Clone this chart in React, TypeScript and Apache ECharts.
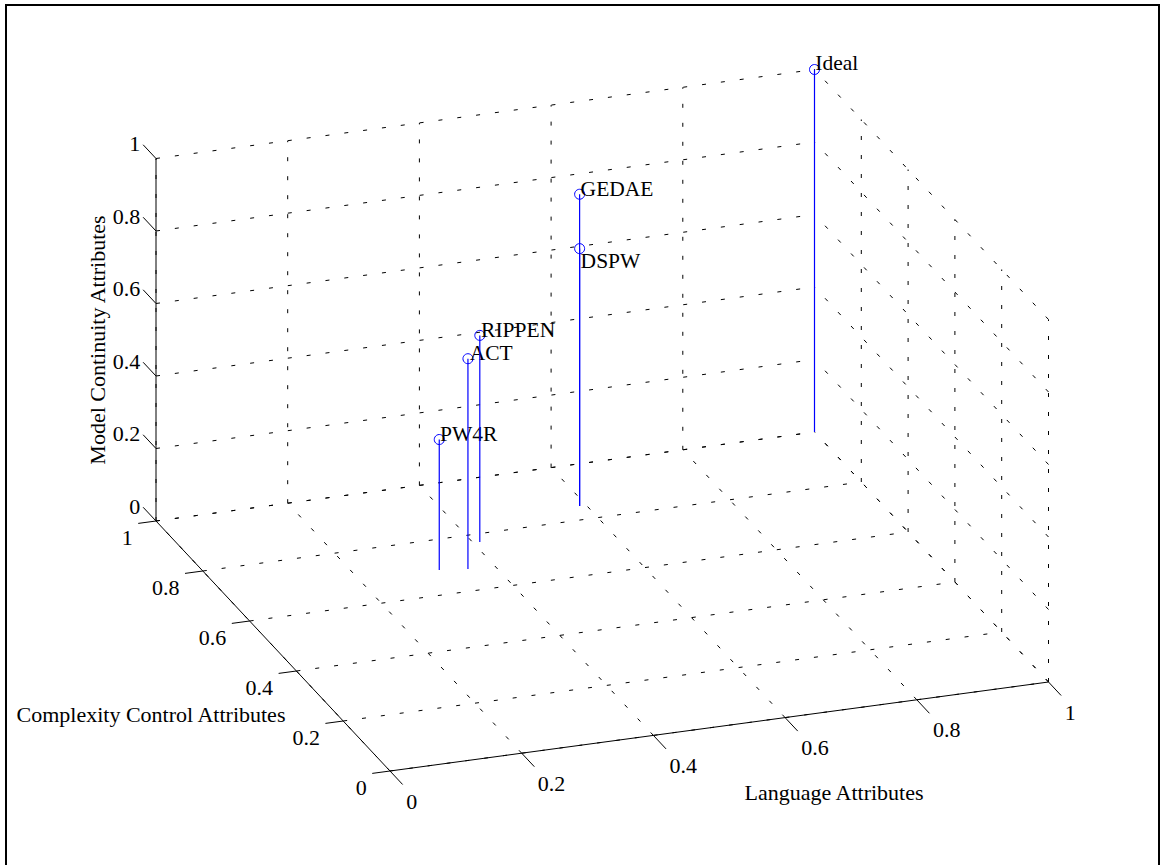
import React, { useEffect, useRef } from 'react';
import * as echarts from 'echarts';

// ---------- data ----------
const pointNames = ['PW4R', 'ACT', 'RIPPEN', 'DSPW', 'GEDAE', 'Ideal'];
const languageValues = [0.32, 0.36, 0.41, 0.59, 0.59, 1];
const complexityValues = [0.69, 0.68, 0.77, 0.85, 0.85, 1];
const continuityValues = [0.36, 0.58, 0.57, 0.71, 0.86, 1];
const tickValues = [0, 0.2, 0.4, 0.6, 0.8, 1];
const tickLabels = ['0', '0.2', '0.4', '0.6', '0.8', '1'];
const xTitle = 'Language Attributes';
const yTitle = 'Complexity Control Attributes';
const zTitle = 'Model Continuity Attributes';

// ---------- view / style ----------
const W = 1160;
const H = 865;
const ORIGIN = [390, 771];
const EX = [658.5, -89];
const EY = [-234, -250];
const EZ = [0, -362.5];
const FONT_FAMILY = '"Liberation Serif", "Times New Roman", Times, serif';
const AXIS_FS = 22;
const POINT_FS = 21.5;
const CENTRAL = 0.3375; // central baseline offset (em) for Liberation Serif
const BLUE = '#0000ff';
const LABEL_DX = [0.8, 1.8, 1.3, 1.0, 1.0, 0.8];
const LABEL_BASELINE = [1.7, 1.7, 2.0, 19.3, 1.7, 0.9];

function project(x: number, y: number, z: number): number[] {
  return [
    ORIGIN[0] + x * EX[0] + y * EY[0] + z * EZ[0],
    ORIGIN[1] + x * EX[1] + y * EY[1] + z * EZ[1],
  ];
}

// grid segments on the three back planes
const gridSegments: number[][] = [];
tickValues.forEach((t) => {
  gridSegments.push([t, 0, 0, t, 1, 0]);
  gridSegments.push([0, t, 0, 1, t, 0]);
  gridSegments.push([t, 1, 0, t, 1, 1]);
  gridSegments.push([0, 1, t, 1, 1, t]);
  gridSegments.push([1, t, 0, 1, t, 1]);
  gridSegments.push([1, 0, t, 1, 1, t]);
});

const X_TICK = -0.054; // in y units
const Y_TICK = -0.027; // in x units
const Z_TICK = 0.055; // in y units

const axisSegments: number[][] = [
  [0, 0, 0, 1, 0, 0],
  [0, 0, 0, 0, 1, 0],
  [0, 1, 0, 0, 1, 1],
];
tickValues.forEach((t) => {
  axisSegments.push([t, 0, 0, t, X_TICK, 0]);
  axisSegments.push([0, t, 0, Y_TICK, t, 0]);
  axisSegments.push([0, 1, t, 0, 1 + Z_TICK, t]);
});

const tickLabelRows: number[][] = [];
[0, 1, 2].forEach((axis) => {
  tickValues.forEach((t, i) => tickLabelRows.push([axis, i, t]));
});

const pointRows = pointNames.map((_, i) => [
  languageValues[i],
  complexityValues[i],
  continuityValues[i],
  i,
]);

function segRender(style: any) {
  return (params: any, api: any) => {
    const a = api.coord(project(api.value(0), api.value(1), api.value(2)));
    const b = api.coord(project(api.value(3), api.value(4), api.value(5)));
    return {
      type: 'line',
      shape: { x1: a[0], y1: a[1], x2: b[0], y2: b[1] },
      style,
    };
  };
}

export default function App() {
  const ref = useRef<HTMLDivElement>(null);
  useEffect(() => {
    if (!ref.current) return;
    const chart = echarts.init(ref.current, undefined, { renderer: 'svg' });
    const option: any = {
      animation: false,
      backgroundColor: '#ffffff',
      grid: { left: 0, top: 0, width: W, height: H, containLabel: false },
      xAxis: { type: 'value', min: 0, max: W, show: false },
      yAxis: { type: 'value', min: 0, max: H, inverse: true, show: false },
      graphic: [
        {
          type: 'rect',
          shape: { x: 6, y: 5, width: 1153, height: 900 },
          style: { fill: 'none', stroke: '#000', lineWidth: 2 },
          silent: true,
          z: 100,
        },
        {
          type: 'text',
          x: 834,
          y: 800 - CENTRAL * AXIS_FS,
          style: {
            text: xTitle,
            fill: '#000',
            fontSize: AXIS_FS,
            fontFamily: FONT_FAMILY,
            align: 'center',
            verticalAlign: 'middle',
            textAlign: 'center',
            textVerticalAlign: 'middle',
          },
          z: 100,
        },
        {
          type: 'text',
          x: 151,
          y: 722 - CENTRAL * AXIS_FS,
          style: {
            text: yTitle,
            fill: '#000',
            fontSize: AXIS_FS,
            fontFamily: FONT_FAMILY,
            align: 'center',
            verticalAlign: 'middle',
            textAlign: 'center',
            textVerticalAlign: 'middle',
          },
          z: 100,
        },
        {
          type: 'text',
          x: 97.5,
          y: 340,
          rotation: Math.PI / 2,
          style: {
            text: zTitle,
            fill: '#000',
            fontSize: AXIS_FS,
            fontFamily: FONT_FAMILY,
            align: 'center',
            verticalAlign: 'middle',
            textAlign: 'center',
            textVerticalAlign: 'middle',
          },
          z: 100,
        },
      ],
      series: [
        {
          type: 'custom',
          name: 'grid',
          silent: true,
          z: 1,
          data: gridSegments,
          renderItem: segRender({ stroke: '#000', lineWidth: 1, lineDash: [4, 15], fill: 'none' }),
        },
        {
          type: 'custom',
          name: 'axes',
          silent: true,
          z: 2,
          data: axisSegments,
          renderItem: segRender({ stroke: '#000', lineWidth: 1, fill: 'none' }),
        },
        {
          type: 'custom',
          name: 'tickLabels',
          silent: true,
          z: 3,
          data: tickLabelRows,
          renderItem: (params: any, api: any) => {
            const axis = api.value(0);
            const idx = api.value(1);
            const t = api.value(2);
            let end: number[];
            let x: number;
            let y: number;
            let align = 'left';
            if (axis === 0) {
              end = api.coord(project(t, X_TICK, 0));
              x = end[0] + 3.5;
              y = end[1] + 16.5;
              align = 'left';
            } else if (axis === 1) {
              end = api.coord(project(Y_TICK, t, 0));
              x = end[0] - 5.5;
              y = end[1] + 14;
              align = 'right';
            } else {
              end = api.coord(project(0, 1 + Z_TICK, t));
              x = end[0] - 3;
              y = end[1] - 1;
              align = 'right';
            }
            return {
              type: 'text',
              x,
              y,
              style: {
                text: tickLabels[idx],
                fill: '#000',
                fontSize: AXIS_FS,
                fontFamily: FONT_FAMILY,
                align,
                verticalAlign: 'middle',
              },
            };
          },
        },
        {
          type: 'custom',
          name: 'stems',
          silent: true,
          z: 4,
          data: pointRows,
          renderItem: (params: any, api: any) => {
            const x = api.value(0);
            const y = api.value(1);
            const z = api.value(2);
            const i = api.value(3);
            const b = api.coord(project(x, y, 0));
            const t = api.coord(project(x, y, z));
            return {
              type: 'group',
              children: [
                {
                  type: 'line',
                  shape: { x1: b[0], y1: b[1], x2: t[0], y2: t[1] },
                  style: { stroke: BLUE, lineWidth: 1.2 },
                },
                {
                  type: 'circle',
                  shape: { cx: t[0], cy: t[1], r: 5 },
                  style: { fill: 'none', stroke: BLUE, lineWidth: 1 },
                },
                {
                  type: 'text',
                  x: t[0] + LABEL_DX[i],
                  y: t[1] + LABEL_BASELINE[i] - CENTRAL * POINT_FS,
                  style: {
                    text: pointNames[i],
                    fill: '#000',
                    fontSize: POINT_FS,
                    fontFamily: FONT_FAMILY,
                    align: 'left',
                    verticalAlign: 'middle',
                  },
                },
              ],
            };
          },
        },
      ],
    };
    chart.setOption(option);
    return () => chart.dispose();
  }, []);
  return (
    <div
      ref={ref}
      style={{ position: 'absolute', left: 0, top: 0, width: W, height: H, background: '#fff' }}
    />
  );
}
